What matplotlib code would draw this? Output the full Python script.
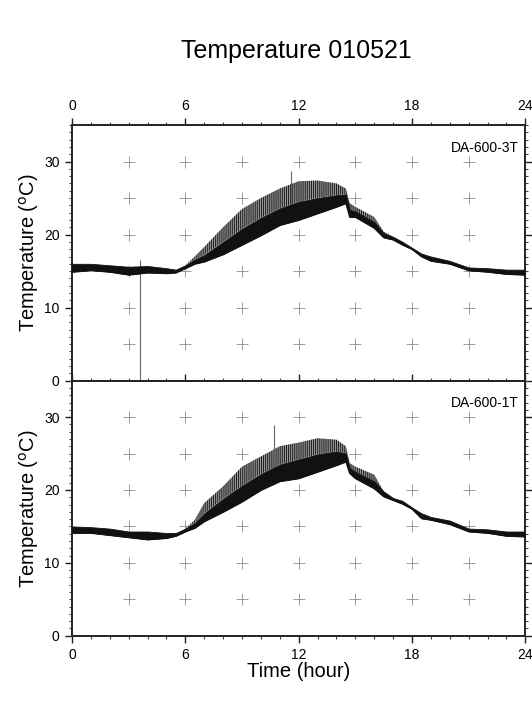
import matplotlib
matplotlib.use("Agg")
import matplotlib.pyplot as plt
import numpy as np
from matplotlib.ticker import MultipleLocator

plt.rcParams['font.family'] = ['Liberation Sans', 'DejaVu Sans']
plt.rcParams['hatch.linewidth'] = 0.7

# ---- data (hours, degC) ----
hours = [0, 1, 2, 3, 4, 5, 5.5, 6, 6.5, 7, 8, 9, 10, 11, 12, 13, 14, 14.5, 14.7,
         15, 16, 16.5, 17, 17.5, 18, 18.5, 19, 20, 21, 22, 23, 24]

# DA-600-3T (upper panel)
t3_low = [14.9, 15.1, 14.9, 14.5, 14.8, 14.7, 14.8, 15.4, 16.0, 16.3, 17.3, 18.6, 19.9, 21.3,
          22.0, 22.9, 23.8, 24.3, 22.4, 22.4, 20.9, 19.6, 19.3, 18.6, 18.0, 17.0, 16.4, 16.0,
          15.1, 14.9, 14.6, 14.5]
t3_core = [16.0, 16.0, 15.8, 15.6, 15.7, 15.4, 15.2, 15.8, 16.6, 17.2, 19.0, 20.8, 22.3, 23.6,
           24.5, 25.0, 25.4, 25.5, 23.4, 23.2, 21.7, 20.2, 19.7, 19.0, 18.2, 17.4, 17.0, 16.4,
           15.5, 15.4, 15.2, 15.2]
t3_high = [16.0, 16.0, 15.8, 15.6, 15.7, 15.4, 15.2, 15.8, 17.0, 18.3, 21.0, 23.5, 25.0, 26.3,
           27.3, 27.4, 27.0, 26.3, 24.3, 23.8, 22.4, 20.4, 19.7, 19.0, 18.2, 17.4, 17.0, 16.4,
           15.5, 15.4, 15.2, 15.2]
t3_spike_t = [3.62, 11.6]
t3_spike_lo = [0.0, 22.0]
t3_spike_hi = [16.5, 28.7]

# DA-600-1T (lower panel)
t1_low = [14.1, 14.1, 13.8, 13.5, 13.2, 13.4, 13.7, 14.3, 14.8, 15.7, 17.0, 18.4, 20.0, 21.2,
          21.6, 22.5, 23.4, 23.9, 22.3, 21.6, 20.2, 19.1, 18.6, 18.1, 17.4, 16.1, 15.9, 15.3,
          14.3, 14.1, 13.7, 13.6]
t1_core = [15.0, 14.9, 14.7, 14.3, 14.3, 14.1, 14.1, 14.7, 15.5, 16.8, 18.8, 20.6, 22.2, 23.5,
           24.2, 24.9, 25.3, 25.0, 23.0, 22.5, 21.2, 19.8, 18.9, 18.5, 17.6, 16.8, 16.3, 15.8,
           14.7, 14.6, 14.3, 14.3]
t1_high = [15.0, 14.9, 14.7, 14.3, 14.3, 14.1, 14.1, 14.7, 15.9, 18.2, 20.5, 23.2, 24.6, 26.0,
           26.5, 27.1, 26.9, 26.0, 23.7, 23.2, 22.1, 19.8, 18.9, 18.5, 17.6, 16.8, 16.3, 15.8,
           14.7, 14.6, 14.3, 14.3]
t1_spike_t = [10.7]
t1_spike_lo = [21.0]
t1_spike_hi = [28.9]

panels = [
    ("DA-600-3T", t3_low, t3_core, t3_high, t3_spike_t, t3_spike_lo, t3_spike_hi),
    ("DA-600-1T", t1_low, t1_core, t1_high, t1_spike_t, t1_spike_lo, t1_spike_hi),
]

xticks = [0, 6, 12, 18, 24]
yticks = [0, 10, 20, 30]

W, H = 532, 708
fig = plt.figure(figsize=(W / 100, H / 100), dpi=100)

def frac_box(l, t, r, b):
    return [l / W, 1 - b / H, (r - l) / W, (b - t) / H]

boxes = [frac_box(72, 125, 525.3, 380.7), frac_box(72, 380.7, 525.3, 635.7)]

for i, (name, lo, core, hi, st, slo, shi) in enumerate(panels):
    ax = fig.add_axes(boxes[i])
    ax.set_xlim(0, 24)
    ax.set_ylim(0, 35)

    # grid crosses
    gx, gy = np.meshgrid(np.arange(3, 24, 3), np.arange(5, 35, 5))
    ax.plot(gx.ravel(), gy.ravel(), ls='none', marker='+', ms=8, mew=0.6,
            color='#8c8c8c', zorder=1)

    ax.fill_between(hours, core, hi, facecolor='#9a9a9a', edgecolor='#1a1a1a',
                    hatch='||||||||', lw=0, zorder=2)
    ax.fill_between(hours, lo, core, facecolor='#111111', edgecolor='#111111',
                    lw=0.6, zorder=3)
    ax.plot(hours, lo, color='#111111', lw=0.9, zorder=3)
    ax.vlines(st, slo, shi, color='#666666', lw=0.8, zorder=2)

    ax.text(0.9855, 0.895, name, transform=ax.transAxes, ha='right', va='baseline',
            fontsize=10)

    ax.set_xticks(xticks)
    ax.set_yticks(yticks)
    ax.xaxis.set_minor_locator(MultipleLocator(1))
    ax.yaxis.set_minor_locator(MultipleLocator(1))
    ax.tick_params(which='major', direction='out', length=5, width=1.0, labelsize=10,
                   pad=4, top=True, right=True, color='#222222')
    ax.tick_params(which='minor', direction='out', length=2.5, width=0.8,
                   top=True, right=True, color='#444444')
    if i == 0:
        ax.tick_params(axis='x', which='both', labeltop=True, labelbottom=False)
    else:
        ax.tick_params(axis='x', which='both', labeltop=False, labelbottom=True)
        ax.set_xlabel("Time (hour)", fontsize=14.5)
        ax.xaxis.set_label_coords(0.5, -0.105)
    ax.set_ylabel("Temperature ($^{\\rm o}$C)", fontsize=14.5)
    ax.yaxis.set_label_coords(-0.068, 0.5)
    for s in ax.spines.values():
        s.set_linewidth(1.4)
        s.set_color('#222222')

fig.text(296.7 / W, 1 - 58 / H, "Temperature 010521", ha='center', va='baseline',
         fontsize=18)

fig.savefig("out.png", dpi=100)
